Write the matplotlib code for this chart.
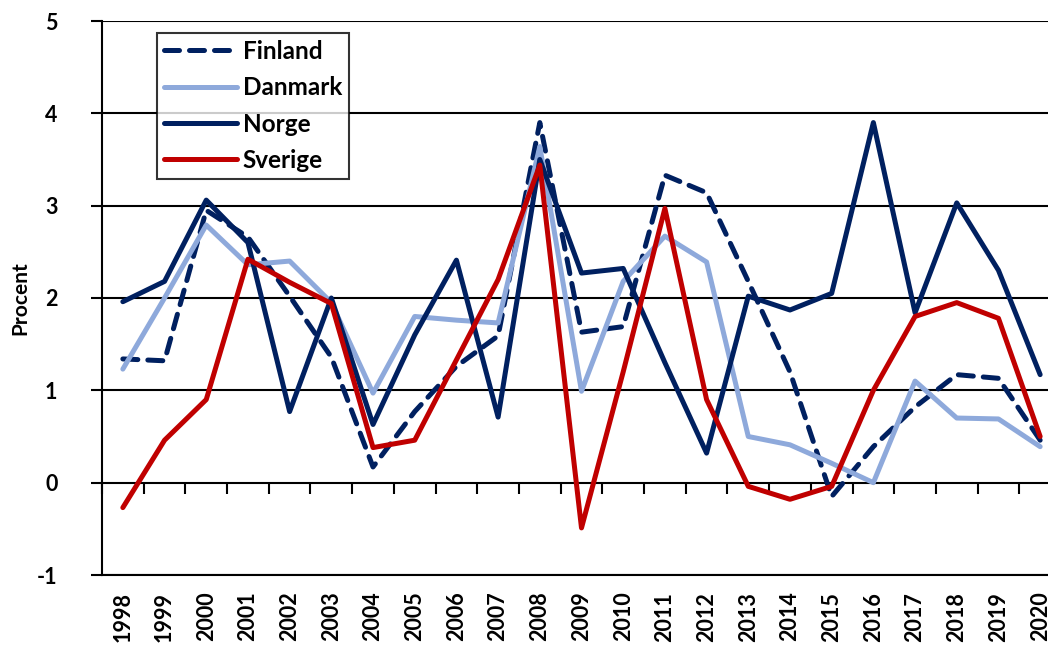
import matplotlib.pyplot as plt
import numpy as np

years = [str(y) for y in range(1998, 2021)]

finland = [1.34, 1.32, 2.95, 2.66, 2.02, 1.36, 0.17, 0.77, 1.26, 1.59, 3.9, 1.63, 1.69,
           3.33, 3.14, 2.18, 1.2, -0.15, 0.39, 0.82, 1.17, 1.13, 0.46]
danmark = [1.23, 2.0, 2.79, 2.36, 2.40, 1.95, 0.97, 1.8, 1.76, 1.73, 3.64, 0.99, 2.18,
           2.67, 2.39, 0.5, 0.41, 0.21, 0.0, 1.1, 0.7, 0.69, 0.39]
norge = [1.96, 2.18, 3.06, 2.6, 0.77, 2.0, 0.63, 1.6, 2.41, 0.71, 3.5, 2.27, 2.32,
         1.3, 0.32, 2.02, 1.87, 2.05, 3.9, 1.84, 3.03, 2.3, 1.17]
sverige = [-0.27, 0.46, 0.9, 2.42, 2.17, 1.94, 0.38, 0.46, 1.33, 2.2, 3.44, -0.49, 1.2,
           2.97, 0.9, -0.04, -0.18, -0.04, 1.0, 1.8, 1.95, 1.78, 0.5]

dark = '#002060'
light = '#8EA9DB'
red = '#C00000'

plt.rcParams['font.family'] = ['Lato', 'DejaVu Sans']
plt.rcParams['font.weight'] = 'bold'

fig = plt.figure(figsize=(10.48, 6.45), dpi=100)
ax = fig.add_axes([102/1048, 70/645, 959/1048, 554/645])

x = np.arange(len(years))
lw = 3.6
ax.plot(x, finland, color=dark, lw=lw, dashes=(3.0, 2.0), dash_capstyle='round',
        solid_joinstyle='round', label='Finland', zorder=3)
ax.plot(x, danmark, color=light, lw=lw, solid_capstyle='round', label='Danmark', zorder=3)
ax.plot(x, norge, color=dark, lw=lw, solid_capstyle='round', label='Norge', zorder=3)
ax.plot(x, sverige, color=red, lw=lw, solid_capstyle='round', label='Sverige', zorder=3)

ax.set_xlim(-0.5, len(years) - 0.5)
ax.set_ylim(-1, 5)
ax.set_yticks(range(-1, 6))
ax.set_yticklabels([str(v) for v in range(-1, 6)], fontsize=15.5, fontweight='bold')
ax.tick_params(axis='y', direction='out', length=8, width=1.5, pad=24)
ax.grid(axis='y', color='black', lw=1.5, zorder=1)

ax.set_xticks(x)
ax.set_xticklabels(years, rotation=90, fontsize=15.5, fontweight='bold')
ax.tick_params(axis='x', length=0, pad=12)

# tick marks along the zero line
sec = ax.secondary_xaxis(1/6)
sec.set_xticks(np.arange(-0.5, len(years), 1.0))
sec.tick_params(axis='x', direction='out', length=8, width=1.5, labelbottom=False)
sec.spines['bottom'].set_visible(False)

for s in ['top', 'right']:
    ax.spines[s].set_visible(False)
ax.spines['left'].set_linewidth(1.5)
ax.spines['bottom'].set_linewidth(1.5)

ax.set_ylabel('Procent', fontsize=15, fontweight='bold', labelpad=5)

leg = ax.legend(loc='upper left', bbox_to_anchor=(55/959, 1 - 12/554), fontsize=17.5,
                frameon=True, fancybox=False, edgecolor='black', handlelength=3.0,
                borderpad=0.28, borderaxespad=0, labelspacing=0.55, handletextpad=0.25)
leg.get_frame().set_linewidth(1.5)
for t in leg.get_texts():
    t.set_fontweight('bold')

fig.savefig('out.png', dpi=100)
